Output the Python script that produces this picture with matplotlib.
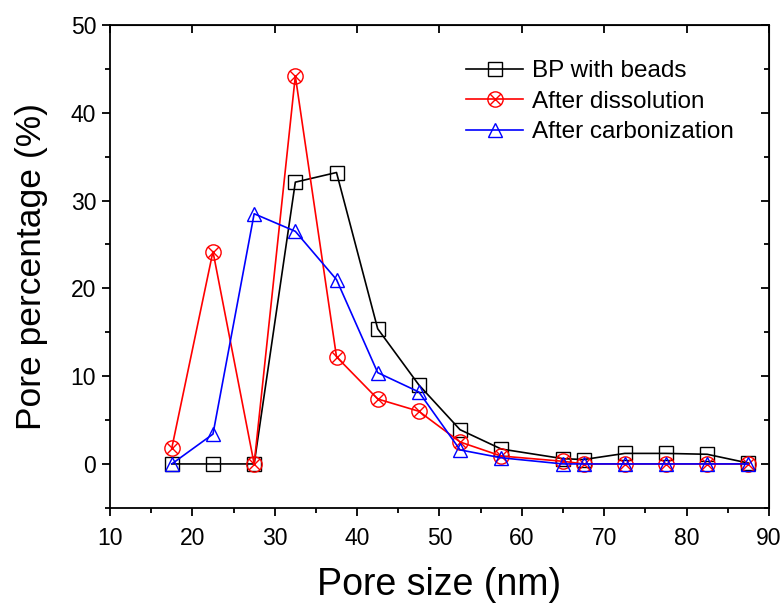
import matplotlib
matplotlib.use("Agg")
import matplotlib.pyplot as plt
from matplotlib.path import Path
from matplotlib.ticker import MultipleLocator

plt.rcParams['font.family'] = ['Liberation Sans', 'DejaVu Sans']

# ---------------------- DATA ----------------------
pore_size = [17.5, 22.5, 27.5, 32.5, 37.5, 42.5, 47.5, 52.5, 57.5, 65, 67.5, 72.5, 77.5, 82.5, 87.5]
bp_beads = [0, 0, 0, 32.1, 33.2, 15.4, 9.0, 3.9, 1.7, 0.6, 0.5, 1.2, 1.2, 1.1, 0.1]
after_dissolution = [1.8, 24.2, 0, 44.2, 12.2, 7.4, 6.0, 2.5, 0.9, 0.3, 0, 0, 0, 0, 0]
after_carbonization = [0, 3.4, 28.5, 26.5, 21.0, 10.4, 8.2, 1.6, 0.7, 0, 0, 0, 0, 0, 0]

labels = ["BP with beads", "After dissolution", "After carbonization"]

# circle with a cross inside (the Origin "crossed circle" symbol)
d = 0.707
circle = Path.unit_circle()
cross1 = Path([(-d, -d), (d, d)], [Path.MOVETO, Path.LINETO])
cross2 = Path([(-d, d), (d, -d)], [Path.MOVETO, Path.LINETO])
crossed_circle = Path.make_compound_path(circle, cross1, cross2)

# ---------------------- GRÁFICO ----------------------
fig = plt.figure(figsize=(7.83, 6.06), dpi=100)
ax = fig.add_axes([0.1405, 0.162, 0.8415, 0.7967])

ax.plot(pore_size, bp_beads, color="black", lw=1.2, marker="s", ms=9.5,
        mfc="none", mec="black", mew=1.0, label=labels[0])
ax.plot(pore_size, after_dissolution, color="red", lw=1.2, marker=crossed_circle, ms=11,
        mfc="none", mec="red", mew=1.0, label=labels[1])
ax.plot(pore_size, after_carbonization, color="blue", lw=1.2, marker="^", ms=10.5,
        mfc="none", mec="blue", mew=1.0, label=labels[2])

ax.set_xlim(10, 90)
ax.set_ylim(-5, 50)
ax.xaxis.set_major_locator(MultipleLocator(10))
ax.xaxis.set_minor_locator(MultipleLocator(5))
ax.yaxis.set_major_locator(MultipleLocator(10))
ax.yaxis.set_minor_locator(MultipleLocator(5))

for s in ax.spines.values():
    s.set_linewidth(1.3)

ax.tick_params(which="major", direction="out", length=6, width=1.3, labelsize=16.5)
ax.tick_params(which="minor", direction="out", length=3.5, width=1.3)
ax.tick_params(axis="x", which="major", pad=8)
ax.tick_params(axis="y", which="major", pad=4)

# inward ticks on top and right
top = ax.secondary_xaxis("top")
top.xaxis.set_major_locator(MultipleLocator(10))
top.tick_params(direction="in", length=6, width=1.3, labeltop=False)
right = ax.secondary_yaxis("right")
right.yaxis.set_major_locator(MultipleLocator(10))
right.yaxis.set_minor_locator(MultipleLocator(5))
right.tick_params(which="major", direction="in", length=6, width=1.3, labelright=False)
right.tick_params(which="minor", direction="in", length=3.5, width=1.3, labelright=False)

ax.set_xlabel("Pore size (nm)", fontsize=27, labelpad=12)
ax.set_ylabel("Pore percentage (%)", fontsize=25.5, labelpad=16)

ax.legend(loc="upper left", frameon=False, fontsize=17.5, handlelength=2.35,
          labelspacing=0.35, handletextpad=0.37, borderaxespad=0, borderpad=0,
          bbox_to_anchor=(466 / 783, 1 - 60 / 606), bbox_transform=fig.transFigure)

plt.savefig("out.png", dpi=100)
